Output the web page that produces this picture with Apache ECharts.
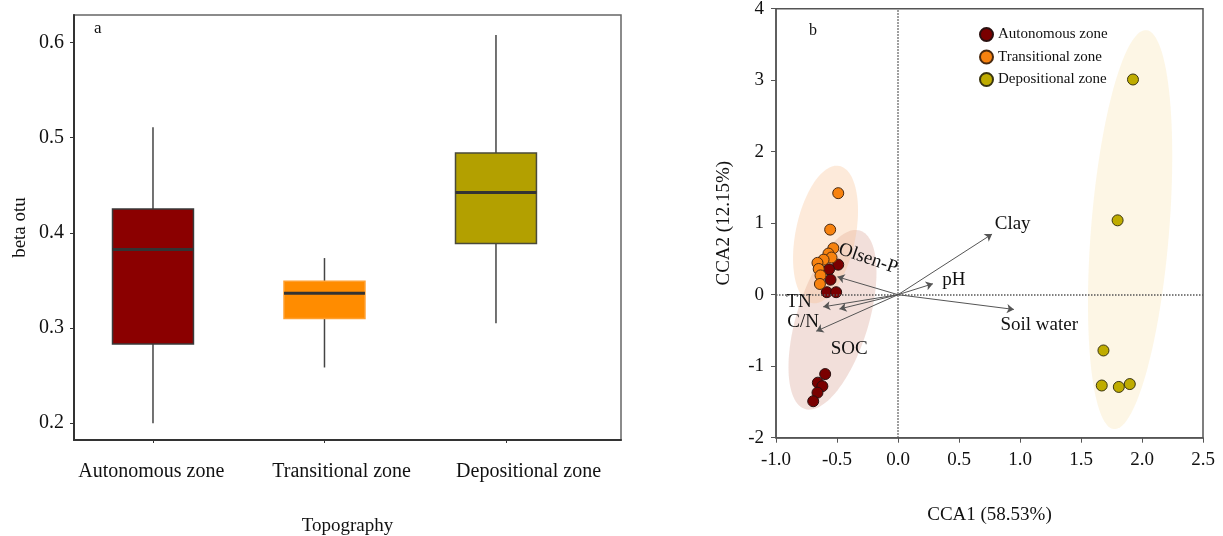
<!DOCTYPE html>
<html>
<head>
<meta charset="utf-8">
<script src="https://cdn.jsdelivr.net/npm/echarts@6/dist/echarts.min.js"></script>
<style>html,body{margin:0;padding:0;background:#fff;}#c{width:1223px;height:536px;}</style>
</head>
<body>
<div id="c"></div>
<script>
// ---------- DATA ----------
const categories = ['Autonomous zone', 'Transitional zone', 'Depositional zone'];
// [min, Q1, median, Q3, max]
const autonomousBox = [0.1997, 0.2831, 0.3823, 0.4251, 0.511];
const transitionalBox = [0.2583, 0.3097, 0.3363, 0.3489, 0.3734];
const depositionalBox = [0.3047, 0.3888, 0.4424, 0.4838, 0.608];
const betaTicks = [0.2, 0.3, 0.4, 0.5, 0.6];

// CCA site scores
const autonomousPts = [[-0.49, 0.42], [-0.565, 0.355], [-0.553, 0.21], [-0.583, 0.035], [-0.507, 0.035],
  [-0.597, -1.11], [-0.657, -1.23], [-0.62, -1.28], [-0.66, -1.37], [-0.695, -1.49]];
const transitionalPts = [[-0.49, 1.42], [-0.556, 0.91], [-0.53, 0.65], [-0.57, 0.575], [-0.545, 0.52],
  [-0.61, 0.49], [-0.66, 0.445], [-0.65, 0.36], [-0.635, 0.27], [-0.64, 0.15]];
const depositionalPts = [[1.926, 3.01], [1.80, 1.04], [1.684, -0.78], [1.67, -1.27], [1.81, -1.29], [1.90, -1.25]];

// environmental vectors (CCA biplot)
const envNames = ['Clay', 'pH', 'Soil water', 'Olsen-P', 'TN', 'SOC', 'C/N'];
const envVectors = [[0.771, 0.848], [0.286, 0.153], [0.95, -0.206], [-0.496, 0.25], [-0.613, -0.17], [-0.48, -0.20], [-0.67, -0.51]];

// confidence ellipses: [cx, cy, major-x, major-y, minor-x, minor-y]
const autonomousEllipse = [-0.537, -0.351, 0.225, 1.248, 0.282, -0.148];
const transitionalEllipse = [-0.594, 0.842, 0.113, 0.959, 0.241, -0.082];
const depositionalEllipse = [1.9025, 0.91, 0.1325, 2.79, 0.319, -0.044];

// ---------- STYLE / LAYOUT ----------
const FONT = 'Liberation Serif';
const boxFill = ['#8b0000', '#ff8c00', '#b3a000'];
const boxStroke = ['#3a3a3a', '#ffa030', '#4a4a3a'];
const ptColor = ['#7a0000', '#f7820f', '#bfac00'];
const ellipseFill = ['rgba(200,120,100,0.24)', 'rgba(250,190,140,0.32)', 'rgba(250,225,170,0.30)'];
const labelPos = [[0.94, 0.982], [0.458, 0.201], [1.158, -0.42], [-0.245, 0.503], [-0.812, -0.096], [-0.40, -0.757], [-0.777, -0.383]];
const labelRot = [0, 0, 0, -19, 0, 0, 0];
const catLabelPos = [0.99, 2.1, 3.19];
const catTickPos = [1.0, 2.0, 3.06];

const chart = echarts.init(document.getElementById('c'));

const boxData = [autonomousBox, transitionalBox, depositionalBox].map((b, i) => [i + 1].concat(b));
const BOX_HALF = 0.236;

function ellipseItem(params, api) {
  const cx = api.value(0), cy = api.value(1), ax = api.value(2), ay = api.value(3), bx = api.value(4), by = api.value(5);
  const pts = [];
  for (let k = 0; k < 120; k++) {
    const t = k / 120 * Math.PI * 2;
    pts.push(api.coord([cx + ax * Math.cos(t) + bx * Math.sin(t), cy + ay * Math.cos(t) + by * Math.sin(t)]));
  }
  return { type: 'polygon', shape: { points: pts }, style: { fill: ellipseFill[params.dataIndex], stroke: null } };
}

const ellipses = [autonomousEllipse, transitionalEllipse, depositionalEllipse];

const option = {
  animation: false,
  backgroundColor: '#fff',
  textStyle: { fontFamily: FONT },
  grid: [
    { left: 74, top: 15, width: 547, height: 425, show: true, borderColor: '#666', borderWidth: 1.5, containLabel: false, outerBoundsMode: 'none' },
    { left: 776, top: 8.7, width: 427, height: 429, show: true, borderColor: '#555', borderWidth: 1.5, containLabel: false, outerBoundsMode: 'none' }
  ],
  xAxis: [
    {
      type: 'value', gridIndex: 0, min: 0.5394, max: 3.729,
      name: 'Topography', nameLocation: 'middle', nameGap: 77,
      nameTextStyle: { fontFamily: FONT, fontSize: 19, color: '#111' },
      axisLine: { show: true, onZero: false, lineStyle: { color: '#333', width: 2 } },
      axisTick: { show: true, length: 3, customValues: catTickPos, lineStyle: { color: '#333' } },
      axisLabel: { customValues: catLabelPos, margin: 22, fontFamily: FONT, fontSize: 20, color: '#111',
        formatter: v => { let best = 0; catLabelPos.forEach((p, i) => { if (Math.abs(p - v) < Math.abs(catLabelPos[best] - v)) best = i; }); return categories[best]; } },
      splitLine: { show: false }
    },
    {
      type: 'value', gridIndex: 1, min: -1, max: 2.5, interval: 0.5,
      name: 'CCA1 (58.53%)', nameLocation: 'middle', nameGap: 68,
      nameTextStyle: { fontFamily: FONT, fontSize: 19, color: '#111' },
      axisLine: { show: true, onZero: false, lineStyle: { color: '#555', width: 1.5 } },
      axisTick: { show: true, length: 5, lineStyle: { color: '#555' } },
      axisLabel: { margin: 13, fontFamily: FONT, fontSize: 19, color: '#111', formatter: v => v.toFixed(1) },
      splitLine: { show: false }
    }
  ],
  yAxis: [
    {
      type: 'value', gridIndex: 0, min: 0.182, max: 0.6291,
      name: 'beta otu', nameLocation: 'middle', nameGap: 44,
      nameTextStyle: { fontFamily: FONT, fontSize: 19, color: '#111' },
      axisLine: { show: true, onZero: false, lineStyle: { color: '#333', width: 2 } },
      axisTick: { show: true, length: 4, customValues: betaTicks, lineStyle: { color: '#333' } },
      axisLabel: { customValues: betaTicks, margin: 10, fontFamily: FONT, fontSize: 20, color: '#111', formatter: v => v.toFixed(1) },
      splitLine: { show: false }
    },
    {
      type: 'value', gridIndex: 1, min: -2, max: 4, interval: 1,
      name: 'CCA2 (12.15%)', nameLocation: 'middle', nameGap: 42,
      nameTextStyle: { fontFamily: FONT, fontSize: 19, color: '#111' },
      axisLine: { show: true, onZero: false, lineStyle: { color: '#555', width: 1.5 } },
      axisTick: { show: true, length: 5, lineStyle: { color: '#555' } },
      axisLabel: { margin: 12, fontFamily: FONT, fontSize: 19, color: '#111' },
      splitLine: { show: false }
    }
  ],
  legend: {
    orient: 'vertical', left: 974, top: 22, itemGap: 7.5, itemWidth: 13, itemHeight: 13,
    icon: 'circle', data: categories,
    textStyle: { fontFamily: FONT, fontSize: 15, color: '#111' }
  },
  graphic: [
    { type: 'text', left: 94, top: 20, style: { text: 'a', font: '17px "Liberation Serif"', fill: '#111' } },
    { type: 'text', left: 809, top: 23, style: { text: 'b', font: '16px "Liberation Serif"', fill: '#111' } }
  ],
  series: [
    // boxplots
    {
      type: 'custom', xAxisIndex: 0, yAxisIndex: 0, data: boxData, z: 3,
      encode: { x: 0, y: [1, 2, 3, 4, 5] },
      renderItem: (params, api) => {
        const i = api.value(0), lo = api.value(1), q1 = api.value(2), med = api.value(3), q3 = api.value(4), hi = api.value(5);
        const idx = params.dataIndex;
        const tl = api.coord([i - BOX_HALF, q3]), br = api.coord([i + BOX_HALF, q1]);
        const mL = api.coord([i - BOX_HALF, med]), mR = api.coord([i + BOX_HALF, med]);
        const wTop = api.coord([i, hi]), wQ3 = api.coord([i, q3]), wQ1 = api.coord([i, q1]), wLo = api.coord([i, lo]);
        return {
          type: 'group', children: [
            { type: 'line', shape: { x1: wTop[0], y1: wTop[1], x2: wQ3[0], y2: wQ3[1] }, style: { stroke: '#444', lineWidth: 1.5 } },
            { type: 'line', shape: { x1: wQ1[0], y1: wQ1[1], x2: wLo[0], y2: wLo[1] }, style: { stroke: '#444', lineWidth: 1.5 } },
            { type: 'rect', shape: { x: tl[0], y: tl[1], width: br[0] - tl[0], height: br[1] - tl[1] }, style: { fill: boxFill[idx], stroke: boxStroke[idx], lineWidth: 1.5 } },
            { type: 'line', shape: { x1: mL[0], y1: mL[1], x2: mR[0], y2: mR[1] }, style: { stroke: '#333', lineWidth: 3 } }
          ]
        };
      }
    },
    // ellipses
    {
      type: 'custom', xAxisIndex: 1, yAxisIndex: 1, data: ellipses, z: 1, silent: true,
      encode: { x: 0, y: 1 },
      renderItem: ellipseItem,
      markLine: {
        silent: true, symbol: 'none', label: { show: false },
        lineStyle: { type: 'dotted', color: '#555', width: 1.5 },
        data: [{ xAxis: 0 }, { yAxis: 0 }]
      }
    },
    // arrows
    {
      type: 'lines', coordinateSystem: 'cartesian2d', xAxisIndex: 1, yAxisIndex: 1, z: 3, silent: true,
      symbol: ['none', 'arrow'], symbolSize: [0, 7],
      lineStyle: { color: '#555', width: 1, opacity: 1 },
      data: envVectors.map(v => ({ coords: [[0, 0], v] }))
    },
    // points
    {
      name: categories[0], type: 'scatter', xAxisIndex: 1, yAxisIndex: 1, z: 4, symbolSize: 11,
      itemStyle: { color: ptColor[0], borderColor: '#2a1010', borderWidth: 1, opacity: 1 }, data: autonomousPts
    },
    {
      name: categories[1], type: 'scatter', xAxisIndex: 1, yAxisIndex: 1, z: 4, symbolSize: 11,
      itemStyle: { color: ptColor[1], borderColor: '#4a2a10', borderWidth: 1, opacity: 1 }, data: transitionalPts
    },
    {
      name: categories[2], type: 'scatter', xAxisIndex: 1, yAxisIndex: 1, z: 4, symbolSize: 11,
      itemStyle: { color: ptColor[2], borderColor: '#3a3510', borderWidth: 1, opacity: 1 }, data: depositionalPts
    },
    // vector labels
    {
      type: 'scatter', xAxisIndex: 1, yAxisIndex: 1, z: 5, symbolSize: 0, silent: true,
      itemStyle: { opacity: 1 },
      data: envNames.map((n, i) => ({
        value: labelPos[i], name: n,
        label: { show: true, position: 'inside', formatter: n, rotate: labelRot[i], fontFamily: FONT, fontSize: 19, color: '#111', opacity: 1 }
      }))
    }
  ]
};
chart.setOption(option);
</script>
</body>
</html>
